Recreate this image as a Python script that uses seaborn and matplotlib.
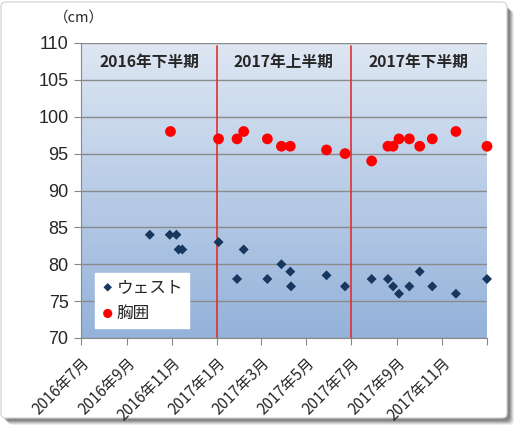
import numpy as np
import pandas as pd
import matplotlib
matplotlib.use("Agg")
import matplotlib.pyplot as plt
from matplotlib.patches import FancyBboxPatch
import seaborn as sns

# ---- data ----
waist_dates = ["2016-10-02", "2016-10-29", "2016-11-07", "2016-11-10", "2016-11-15",
               "2017-01-03", "2017-01-28", "2017-02-06", "2017-03-10", "2017-03-29",
               "2017-04-10", "2017-04-11", "2017-05-29", "2017-06-23", "2017-07-29",
               "2017-08-20", "2017-08-27", "2017-09-04", "2017-09-18", "2017-10-02",
               "2017-10-19", "2017-11-20", "2018-01-01"]
waist_values = [84, 84, 84, 82, 82, 83, 78, 82, 78, 80, 79, 77, 78.5, 77, 78,
                78, 77, 76, 77, 79, 77, 76, 78]

chest_dates = ["2016-10-30", "2017-01-03", "2017-01-28", "2017-02-06", "2017-03-10",
               "2017-03-29", "2017-04-10", "2017-05-29", "2017-06-23", "2017-07-29",
               "2017-08-20", "2017-08-27", "2017-09-04", "2017-09-18", "2017-10-02",
               "2017-10-19", "2017-11-20", "2018-01-01"]
chest_values = [98, 97, 97, 98, 97, 96, 96, 95.5, 95, 94, 96, 96, 97, 97, 96, 97, 98, 96]

series_names = ["ウェスト", "胸囲"]
period_labels = ["2016年下半期", "2017年上半期", "2017年下半期"]
period_bounds = ["2016-07-01", "2017-01-01", "2017-07-01", "2018-01-01"]
tick_months = ["2016-07-01", "2016-09-01", "2016-11-01", "2017-01-01", "2017-03-01",
               "2017-05-01", "2017-07-01", "2017-09-01", "2017-11-01"]
tick_labels = ["2016年7月", "2016年9月", "2016年11月", "2017年1月", "2017年3月",
               "2017年5月", "2017年7月", "2017年9月", "2017年11月"]

df = pd.concat([
    pd.DataFrame({"date": pd.to_datetime(waist_dates), "value": waist_values, "series": series_names[0]}),
    pd.DataFrame({"date": pd.to_datetime(chest_dates), "value": chest_values, "series": series_names[1]}),
])

sns.set_style("white")
plt.rcParams["font.family"] = ["Liberation Sans", "Noto Sans CJK JP", "DejaVu Sans"]
CJK = ["Noto Sans CJK JP", "DejaVu Sans"]

fig = plt.figure(figsize=(5.18, 4.33), dpi=100)
fig.patch.set_facecolor("white")

# frame with soft shadow
W, H = 518, 433
for k, (off, a) in enumerate([(9, 0.10), (8, 0.15), (7, 0.20), (6, 0.25), (5, 0.30)]):
    sh = FancyBboxPatch(((off - 1) / W, 1 - (416 + off) / H), 506 / W, 414 / H,
                        boxstyle="round,pad=0,rounding_size=0.01",
                        transform=fig.transFigure, facecolor="#505050", edgecolor="none",
                        alpha=a, zorder=0)
    fig.patches.append(sh)
frame = FancyBboxPatch((1 / W, 1 - 418 / H), 506 / W, 416 / H,
                       boxstyle="round,pad=0,rounding_size=0.01",
                       transform=fig.transFigure, facecolor="white", edgecolor="#d0d0d0",
                       linewidth=0.8, zorder=0.5)
fig.patches.append(frame)

ax = fig.add_axes([81 / W, 1 - 338 / H, (487 - 81) / W, (338 - 43) / H])
ax.set_zorder(2)
ax.patch.set_alpha(0)

# gradient background
grad = np.linspace(0, 1, 256).reshape(-1, 1)
top_c = np.array([222, 231, 243]) / 255
bot_c = np.array([148, 178, 218]) / 255
img = top_c[None, None, :] * (1 - grad[:, :, None]) + bot_c[None, None, :] * grad[:, :, None]
ax.imshow(img, extent=[0, 1, 0, 1], transform=ax.transAxes, aspect="auto", zorder=0)

palette = {series_names[0]: "#17375e", series_names[1]: "#ff0000"}
markers = {series_names[0]: "D", series_names[1]: "o"}
sizes = {series_names[0]: 26, series_names[1]: 60}
for name in series_names:
    sub = df[df["series"] == name]
    sns.scatterplot(data=sub, x="date", y="value", ax=ax, color=palette[name],
                    marker=markers[name], s=sizes[name], edgecolor="none",
                    label=name, zorder=4, clip_on=False)

xmin = pd.Timestamp(period_bounds[0])
xmax = pd.Timestamp(period_bounds[-1])
ax.set_xlim(xmin, xmax)
ax.set_ylim(70, 110)
ax.set_yticks(np.arange(70, 111, 5))
ax.yaxis.grid(True, color="#8a8a8a", linewidth=1.0, zorder=1)
ax.set_axisbelow(True)

ticks = pd.to_datetime(tick_months + [period_bounds[-1]])
ax.set_xticks(ticks)
ax.set_xticklabels(tick_labels + [""], rotation=45, ha="right", rotation_mode="anchor",
                   fontsize=11, family=CJK)
ax.tick_params(axis="y", labelsize=13, length=5, direction="out", color="#888888", pad=4, left=True)
ax.tick_params(axis="x", length=5, direction="out", color="#888888", pad=7, bottom=True)
ax.set_xlabel("")
ax.set_ylabel("")

for side in ["top", "right"]:
    ax.spines[side].set_visible(False)
for side in ["left", "bottom"]:
    ax.spines[side].set_color("#888888")

# period separators and labels
for b in period_bounds[1:-1]:
    ax.axvline(pd.Timestamp(b), ymin=0.0, ymax=0.99, color="#e03030", linewidth=1.2, zorder=3)
for i, lab in enumerate(period_labels):
    a = pd.Timestamp(period_bounds[i])
    b = pd.Timestamp(period_bounds[i + 1])
    mid = a + (b - a) / 2
    ax.text(mid, 107.4, lab, ha="center", va="center", fontsize=11.3, fontweight="bold",
            family=CJK, zorder=5)

fig.text(79 / W, 1 - 18 / H, "（cm）", ha="center", va="center", fontsize=10.5, family=CJK)

leg = ax.legend(loc="lower left", bbox_to_anchor=(0.035, 0.035), frameon=True, fancybox=False,
                framealpha=1, edgecolor="white", handletextpad=0.15, borderpad=0.35,
                labelspacing=0.55, handlelength=0.8, borderaxespad=0, markerscale=0.85,
                prop={"family": CJK, "size": 12})
leg.set_zorder(6)

fig.savefig("out.png", dpi=100)
